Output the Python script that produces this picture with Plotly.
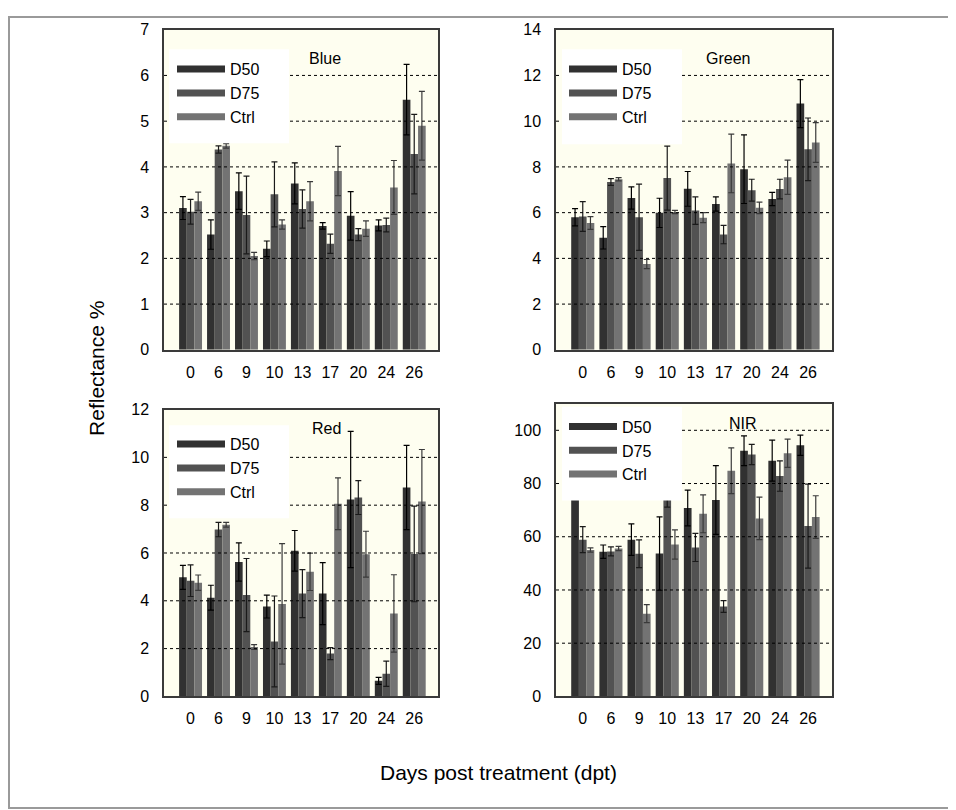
import plotly.graph_objects as go

W, H = 956, 810

days = ["0", "6", "9", "10", "13", "17", "20", "24", "26"]
series = ["D50", "D75", "Ctrl"]
bar_colors = ["#313131", "#525252", "#737373"]
err_colors = ["#000000", "#1a1a1a", "#3a3a3a"]

# Blue
blue_d50 = [3.10, 2.52, 3.47, 2.21, 3.64, 2.71, 2.93, 2.72, 5.47]
blue_d50_err = [0.25, 0.32, 0.40, 0.17, 0.45, 0.07, 0.53, 0.12, 0.77]
blue_d75 = [3.02, 4.38, 2.95, 3.40, 3.08, 2.32, 2.52, 2.73, 4.28]
blue_d75_err = [0.27, 0.08, 0.85, 0.71, 0.42, 0.21, 0.13, 0.15, 0.87]
blue_ctrl = [3.25, 4.46, 2.05, 2.74, 3.25, 3.91, 2.65, 3.55, 4.90]
blue_ctrl_err = [0.20, 0.05, 0.08, 0.10, 0.43, 0.54, 0.17, 0.59, 0.75]

# Green
green_d50 = [5.80, 4.90, 6.64, 5.99, 7.04, 6.38, 7.90, 6.60, 10.77]
green_d50_err = [0.38, 0.49, 0.49, 0.64, 0.76, 0.31, 1.50, 0.29, 1.05]
green_d75 = [5.83, 7.34, 5.80, 7.51, 6.09, 5.04, 6.98, 7.03, 8.77]
green_d75_err = [0.65, 0.15, 1.45, 1.40, 0.60, 0.40, 0.48, 0.43, 1.37]
green_ctrl = [5.55, 7.46, 3.75, 6.03, 5.78, 8.15, 6.21, 7.55, 9.07]
green_ctrl_err = [0.28, 0.07, 0.20, 0.07, 0.22, 1.28, 0.25, 0.75, 0.87]

# Red
red_d50 = [4.98, 4.13, 5.62, 3.76, 6.09, 4.30, 8.24, 0.65, 8.74]
red_d50_err = [0.50, 0.52, 0.80, 0.48, 0.85, 1.30, 2.85, 0.15, 1.76]
red_d75 = [4.84, 6.98, 4.24, 2.30, 4.30, 1.79, 8.32, 0.95, 5.96]
red_d75_err = [0.66, 0.30, 1.53, 1.90, 1.00, 0.25, 0.71, 0.53, 2.00]
red_ctrl = [4.76, 7.18, 2.07, 3.87, 5.21, 8.06, 5.95, 3.47, 8.15]
red_ctrl_err = [0.32, 0.10, 0.10, 2.52, 0.78, 1.08, 0.96, 1.62, 2.18]

# NIR
nir_d50 = [76.5, 54.4, 58.9, 53.7, 70.8, 73.8, 92.3, 88.6, 94.4]
nir_d50_err = [2.3, 2.5, 5.9, 13.8, 6.7, 12.9, 5.6, 7.7, 3.8]
nir_d75 = [58.9, 54.5, 53.6, 83.4, 56.0, 33.8, 90.9, 82.8, 64.0]
nir_d75_err = [4.9, 1.7, 5.2, 12.3, 5.3, 2.2, 3.8, 5.7, 15.8]
nir_ctrl = [55.0, 55.6, 31.1, 57.1, 68.6, 84.8, 66.9, 91.4, 67.4]
nir_ctrl_err = [0.8, 0.8, 3.4, 5.5, 7.1, 8.6, 8.0, 5.3, 8.0]

panel_titles = ["Blue", "Green", "Red", "NIR"]
y_ranges = [[0, 7], [0, 14], [0, 12], [0, 110]]
y_ticks = [list(range(0, 8, 1)), list(range(0, 15, 2)), list(range(0, 13, 2)), list(range(0, 101, 20))]

panels = [
    [(blue_d50, blue_d50_err), (blue_d75, blue_d75_err), (blue_ctrl, blue_ctrl_err)],
    [(green_d50, green_d50_err), (green_d75, green_d75_err), (green_ctrl, green_ctrl_err)],
    [(red_d50, red_d50_err), (red_d75, red_d75_err), (red_ctrl, red_ctrl_err)],
    [(nir_d50, nir_d50_err), (nir_d75, nir_d75_err), (nir_ctrl, nir_ctrl_err)],
]

# plot areas in pixels (left, right, top, bottom)
boxes = [(156, 430, 14, 341), (548, 824, 14, 341), (156, 430, 402, 695), (548, 824, 396, 695)]
# legend box offsets relative to panel (left, width, top, bottom) and first item offset
leg_box = [(5, 120, 20, 116, 42), (6, 120, 20, 117, 42), (5, 120, 16, 111, 37), (6, 120, 3, 99, 25)]
title_off = [(143, 19), (196, 19), (146, 19), (203, 20)]

FONT = "Liberation Sans, Arial, sans-serif"


def px(x):
    return x / W


def py(y):
    return 1 - y / H


fig = go.Figure()
shapes = []
annotations = []
layout_axes = {}

for p in range(4):
    ax = "" if p == 0 else str(p + 1)
    xa, ya = "x" + ax, "y" + ax
    legname = "legend" if p == 0 else "legend" + str(p + 1)
    for s in range(3):
        vals, errs = panels[p][s]
        fig.add_trace(go.Bar(
            x=days, y=vals, name=series[s], xaxis=xa, yaxis=ya,
            marker=dict(color=bar_colors[s], line=dict(width=0)),
            error_y=dict(type="data", array=errs, visible=True,
                         color=err_colors[s], thickness=1.2, width=3),
            showlegend=False,
        ))
    for s in range(3):
        fig.add_trace(go.Scatter(
            x=[None], y=[None], mode="lines", name=series[s], xaxis=xa, yaxis=ya,
            line=dict(color=bar_colors[s], width=7),
            legend=legname, legendgroup=legname + series[s], showlegend=True,
        ))
    l, r, t, b = boxes[p]
    layout_axes["xaxis" + ax] = dict(
        domain=[px(l), px(r)], anchor=ya, type="category",
        range=[-0.95, len(days) - 0.15], showgrid=False, zeroline=False,
        showline=True, linecolor="#3a3a3a", linewidth=1.5, mirror=True,
        ticks="", ticklabelstandoff=7,
        tickfont=dict(family=FONT, size=16, color="#000"),
    )
    layout_axes["yaxis" + ax] = dict(
        domain=[py(b), py(t)], anchor=xa, range=y_ranges[p],
        tickvals=y_ticks[p], showgrid=False, zeroline=False,
        showline=True, linecolor="#3a3a3a", linewidth=1.5, mirror=True,
        ticks="", ticklabelstandoff=10,
        tickfont=dict(family=FONT, size=16, color="#000"),
    )
    # dotted gridlines drawn above the bars
    for tv in y_ticks[p][1:]:
        if tv >= y_ranges[p][1]:
            continue
        shapes.append(dict(type="line", xref=xa + " domain", yref=ya,
                           x0=0, x1=1, y0=tv, y1=tv, layer="above",
                           line=dict(color="#000", width=1, dash="dot")))
    # legend white box
    ox, wd, ot, ob, first = leg_box[p]
    shapes.append(dict(type="rect", xref="paper", yref="paper",
                       x0=px(l + ox), x1=px(l + ox + wd), y0=py(t + ob), y1=py(t + ot),
                       fillcolor="#ffffff", line=dict(width=0), layer="above"))
    layout_axes[legname] = dict(
        x=px(l + 8), y=py(t + first - 19), xanchor="left", yanchor="top",
        bgcolor="rgba(0,0,0,0)", borderwidth=0, itemwidth=48,
        tracegroupgap=0, font=dict(family=FONT, size=16, color="#000"),
    )
    tx, ty = title_off[p]
    annotations.append(dict(text=panel_titles[p], xref="paper", yref="paper",
                            x=px(l + tx), y=py(t + ty), showarrow=False,
                            font=dict(family=FONT, size=16, color="#000")))

# axis titles
annotations.append(dict(text="Reflectance %", xref="paper", yref="paper",
                        x=px(75), y=py(360), textangle=-90, showarrow=False,
                        font=dict(family=FONT, size=21, color="#000")))
annotations.append(dict(text="Days post treatment (dpt)", xref="paper", yref="paper",
                        x=px(490), y=py(786), showarrow=False,
                        font=dict(family=FONT, size=21, color="#000")))

# outer frame
shapes.append(dict(type="rect", xref="paper", yref="paper",
                   x0=px(1), x1=px(950), y0=py(809), y1=py(1),
                   line=dict(color="#9a9a9a", width=2), layer="below"))

fig.update_layout(
    width=W, height=H,
    margin=dict(l=0, r=0, t=0, b=0),
    paper_bgcolor="#ffffff", plot_bgcolor="#fefef0",
    barmode="group", bargap=0.18, bargroupgap=0,
    shapes=shapes, annotations=annotations,
    **layout_axes,
)

fig.write_html("out.html")
